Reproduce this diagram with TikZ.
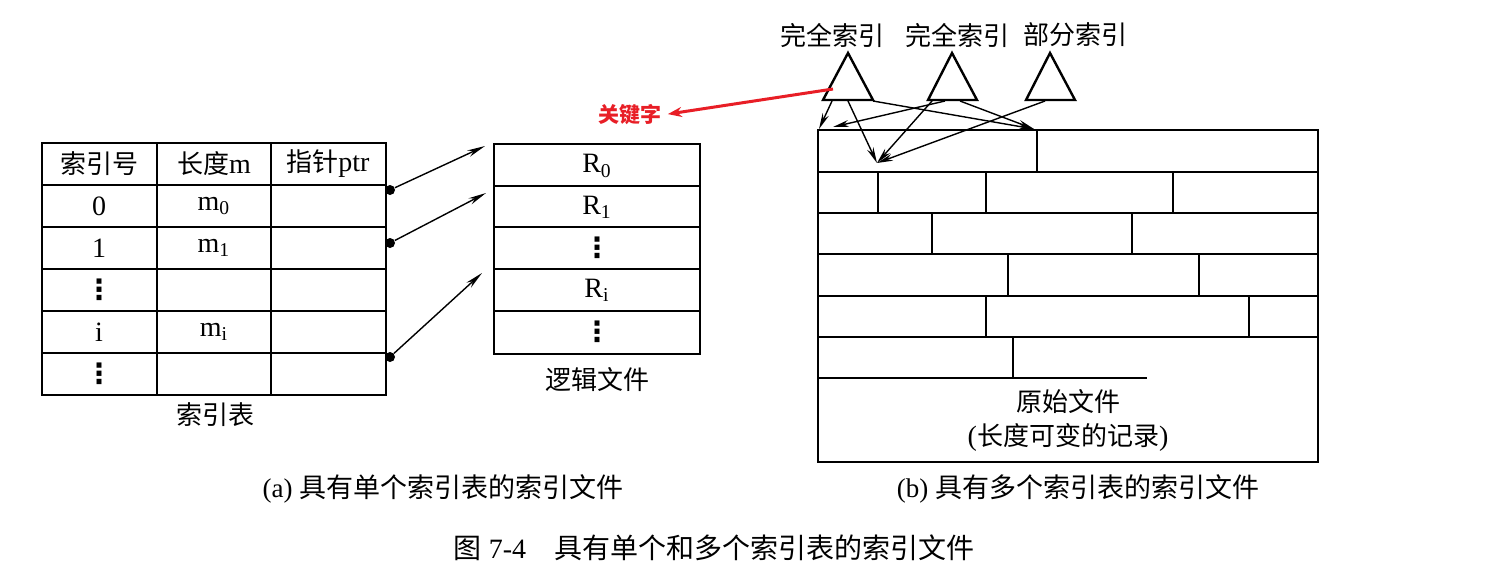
\documentclass[tikz,border=0pt]{standalone}
\usepackage{fontspec}
\setmainfont{Liberation Serif}
\newfontfamily\cjk{Noto Sans CJK SC}
\newfontfamily\symfont{DejaVu Sans}
\usetikzlibrary{arrows.meta}

\definecolor{keyred}{RGB}{232,30,38}

\tikzset{
  cell/.style={inner sep=0pt, font=\fontsize{14}{16}\selectfont},
  vdot/.style={inner sep=0pt, font=\symfont\bfseries\fontsize{14}{16}\selectfont},
  cjklabel/.style={inner sep=0pt, font=\cjk\fontsize{13}{15}\selectfont},
  caption/.style={inner sep=0pt, font=\fontsize{13.5}{16}\selectfont},
  dot/.style={circle, fill=black, inner sep=0pt, minimum size=5pt},
  ptr/.style={-{Stealth[length=9pt,width=3.4pt]}, line width=0.7pt},
  idxptr/.style={-{Stealth[length=8pt,width=3.4pt]}, line width=0.7pt},
}

\begin{document}
\begin{tikzpicture}[x=0.5pt,y=-0.5pt]

    % Page size
    \useasboundingbox (0,0) rectangle (1504,584);

    % Index table
    \draw[line width=1pt] (42,143) rectangle (386,395);
    \draw[line width=0.9pt] (157,143) -- (157,395);
    \draw[line width=0.9pt] (271,143) -- (271,395);
    \draw[line width=0.9pt] (42,185) -- (386,185);
    \draw[line width=0.9pt] (42,227) -- (386,227);
    \draw[line width=0.9pt] (42,269) -- (386,269);
    \draw[line width=0.9pt] (42,311) -- (386,311);
    \draw[line width=0.9pt] (42,353) -- (386,353);

    % Table texts
    \node[cjklabel] (hno) at (99,164) {索引号};
    \node[cell] (hlen) at (214,164) {{\cjk\fontsize{13}{15}\selectfont 长度}m};
    \node[cell] (hptr) at (328,164) {{\cjk\fontsize{13}{15}\selectfont 指针}ptr};
    \node[cell] (no0) at (99,206) {0};
    \node[cell] (no1) at (99,248) {1};
    \node[vdot] (no2) at (99,290) {⋮};
    \node[cell] (noi) at (99,332) {i};
    \node[vdot] (no3) at (99,374) {⋮};
    \node[cell] (len0) at (214,206) {m\textsubscript{0}};
    \node[cell] (len1) at (214,248) {m\textsubscript{1}};
    \node[cell] (leni) at (214,332) {m\textsubscript{i}};
    \node[cjklabel] (tabname) at (215,415) {索引表};

    % Logical file
    \draw[line width=1pt] (494,144) rectangle (700,354);
    \draw[line width=0.9pt] (494,186) -- (700,186);
    \draw[line width=0.9pt] (494,227) -- (700,227);
    \draw[line width=0.9pt] (494,269) -- (700,269);
    \draw[line width=0.9pt] (494,311) -- (700,311);
    \node[cell] (rec0) at (597,166) {R\textsubscript{0}};
    \node[cell] (rec1) at (597,207) {R\textsubscript{1}};
    \node[vdot] (rec2) at (597,248) {⋮};
    \node[cell] (reci) at (597,290) {R\textsubscript{i}};
    \node[vdot] (rec3) at (597,332) {⋮};
    \node[cjklabel] (logname) at (597,380) {逻辑文件};

    % Pointers
    \node[dot] (p0) at (390,190) {};
    \node[dot] (p1) at (390,243) {};
    \node[dot] (pi) at (390,357) {};
    \coordinate (r0in) at (485,146);
    \coordinate (r1in) at (486,193);
    \coordinate (riin) at (482,273);
    \draw[ptr] (p0) -- (r0in);
    \draw[ptr] (p1) -- (r1in);
    \draw[ptr] (pi) -- (riin);

    % Original file
    \draw[line width=1.2pt] (818,130) rectangle (1318,462);
    \draw[line width=0.8pt] (818,172) -- (1318,172);
    \draw[line width=0.8pt] (818,213) -- (1318,213);
    \draw[line width=0.8pt] (818,254) -- (1318,254);
    \draw[line width=0.8pt] (818,296) -- (1318,296);
    \draw[line width=0.8pt] (818,337) -- (1318,337);
    \draw[line width=0.8pt] (818,378) -- (1147,378);
    \draw[line width=0.8pt] (1037,130) -- (1037,172);
    \draw[line width=0.8pt] (878,172) -- (878,213);
    \draw[line width=0.8pt] (986,172) -- (986,213);
    \draw[line width=0.8pt] (1173,172) -- (1173,213);
    \draw[line width=0.8pt] (932,213) -- (932,254);
    \draw[line width=0.8pt] (1132,213) -- (1132,254);
    \draw[line width=0.8pt] (1008,254) -- (1008,296);
    \draw[line width=0.8pt] (1199,254) -- (1199,296);
    \draw[line width=0.8pt] (986,296) -- (986,337);
    \draw[line width=0.8pt] (1249,296) -- (1249,337);
    \draw[line width=0.8pt] (1013,337) -- (1013,378);
    \node[cjklabel] (orgname) at (1068,402) {原始文件};
    \node[cell] (orgnote) at (1068,437) {({\cjk\fontsize{13}{15}\selectfont 长度可变的记录})};

    % Index triangles
    \draw[line width=1.2pt] (823,100) -- (848,53) -- (873,100) -- cycle;
    \draw[line width=1.2pt] (928,100) -- (952,53) -- (977,100) -- cycle;
    \draw[line width=1.2pt] (1026,100) -- (1050,53) -- (1075,100) -- cycle;
    \node[cjklabel] (full1) at (832,35) {完全索引};
    \node[cjklabel] (full2) at (957,35) {完全索引};
    \node[cjklabel] (part) at (1075,35) {部分索引};

    % Index entries
    \coordinate (t1a) at (832,101);
    \coordinate (t1b) at (848,101);
    \coordinate (t1c) at (873,101);
    \coordinate (t2a) at (932,101);
    \coordinate (t2b) at (945,101);
    \coordinate (t2c) at (960,101);
    \coordinate (t3a) at (1045,101);
    \coordinate (reca) at (819,129);
    \coordinate (recb) at (833,127);
    \coordinate (recc) at (877,163);
    \coordinate (recd) at (1034,129);
    \draw[idxptr] (t1a) -- (reca);
    \draw[idxptr] (t1b) -- (recc);
    \draw[idxptr] (t1c) -- (recd);
    \draw[idxptr] (t2b) -- (recb);
    \draw[idxptr] (t2a) -- (recc);
    \draw[idxptr] (t2c) -- (recd);
    \draw[idxptr] (t3a) -- (recc);

    % Key label
    \node[inner sep=0pt, text=keyred, font=\cjk\bfseries\fontsize{10.5}{12}\selectfont] (key) at (630,115) {关键字};
    \coordinate (keystart) at (833,89);
    \draw[keyred, line width=1.5pt, -{Stealth[length=7pt,width=5pt]}, shorten >=3pt] (keystart) -- (key.east);

    % Captions
    \node[caption] (capa) at (443,489) {(a) {\cjk 具有单个索引表的索引文件}};
    \node[caption] (capb) at (1078,489) {(b) {\cjk 具有多个索引表的索引文件}};
    \node[caption, font=\fontsize{14}{16}\selectfont] (figcap) at (714,548) {{\cjk 图} 7-4\hspace{1em}{\cjk 具有单个和多个索引表的索引文件}};

\end{tikzpicture}
\end{document}
